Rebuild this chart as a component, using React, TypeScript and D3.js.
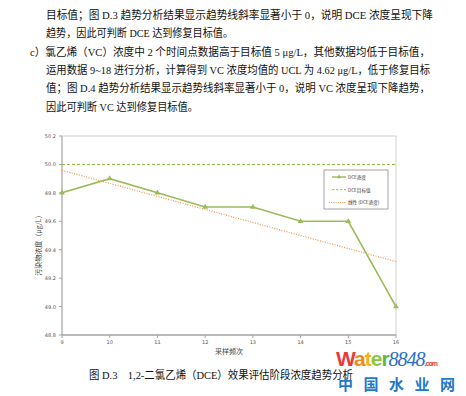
import React from "react";
import * as d3 from "d3";

// sampling rounds and DCE concentration (μg/L)
const rounds = [9, 10, 11, 12, 13, 14, 15, 16];
const dceValues = [49.8, 49.9, 49.8, 49.7, 49.7, 49.6, 49.6, 49.0];
const targetValue = 50.0;
const yTicks = [48.8, 49.0, 49.2, 49.4, 49.6, 49.8, 50.0, 50.2];
const legendLabels = ["DCE浓度", "DCE目标值", "线性 (DCE浓度)"];

const paragraph = [
  { x: 46, text: "目标值；图 D.3 趋势分析结果显示趋势线斜率显著小于 0，说明 DCE 浓度呈现下降", w: 387 },
  { x: 46, text: "趋势，因此可判断 DCE 达到修复目标值。", w: 187 },
  { x: 30, text: "c）氯乙烯（VC）浓度中 2 个时间点数据高于目标值 5 μg/L，其他数据均低于目标值，", w: 400 },
  { x: 46, text: "运用数据 9~18 进行分析，计算得到 VC 浓度均值的 UCL 为 4.62 μg/L，低于修复目标", w: 384 },
  { x: 46, text: "值；图 D.4 趋势分析结果显示趋势线斜率显著小于 0，说明 VC 浓度呈现下降趋势，", w: 384 },
  { x: 46, text: "因此可判断 VC 达到修复目标值。", w: 152 },
];

const W = 466;
const H = 396;
const plot = { left: 62, right: 396, top: 136, bottom: 335 };

const GREEN = "#9bbb59";
const TARGET = "#8cb83c";
const ORANGE = "#f0914a";
const AXIS = "#a6a6a6";
const FONT = "'Liberation Serif', 'Noto Sans CJK SC', serif";

export default function App() {
  const x = d3.scaleLinear().domain([9, 16]).range([plot.left, plot.right]);
  const y = d3.scaleLinear().domain([48.8, 50.2]).range([plot.bottom, plot.top]);

  // linear trend of the DCE series
  const mx = d3.mean(rounds)!;
  const my = d3.mean(dceValues)!;
  const sxy = d3.sum(rounds, (r, i) => (r - mx) * (dceValues[i] - my));
  const sxx = d3.sum(rounds, (r) => (r - mx) ** 2);
  const slope = sxy / sxx;
  const trend = (r: number) => my + slope * (r - mx);

  const line = d3
    .line<number>()
    .x((_, i) => x(rounds[i]))
    .y((d) => y(d));

  const tri = d3.symbol(d3.symbolTriangle, 14);

  const leg = { x: 324, y: 170, w: 64, h: 39 };

  return (
    <svg
      width={W}
      height={H}
      style={{ position: "absolute", left: 0, top: 0, background: "#fff" }}
      fontFamily={FONT}
    >
      <rect width={W} height={H} fill="#fff" />

      {paragraph.map((p, i) => (
        <text
          key={i}
          x={p.x}
          y={19 + i * 18.3}
          fontSize={11}
          fill="#111"
          textLength={p.w}
          lengthAdjust="spacingAndGlyphs"
        >
          {p.text}
        </text>
      ))}

      {/* plot frame */}
      <rect
        x={plot.left}
        y={plot.top}
        width={plot.right - plot.left}
        height={plot.bottom - plot.top}
        fill="none"
        stroke="#d0d0d0"
        strokeWidth={1}
      />
      <line x1={plot.left} x2={plot.left} y1={plot.top} y2={plot.bottom} stroke={AXIS} />
      <line x1={plot.left} x2={plot.right} y1={plot.bottom} y2={plot.bottom} stroke="#8c8c8c" />

      {yTicks.map((t) => (
        <g key={t}>
          <line x1={plot.left - 3} x2={plot.left} y1={y(t)} y2={y(t)} stroke={AXIS} />
          <text x={plot.left - 6} y={y(t) + 2} fontSize={5} textAnchor="end" fill="#555" fontFamily="'DejaVu Sans', sans-serif">
            {t.toFixed(1)}
          </text>
        </g>
      ))}
      {rounds.map((r) => (
        <g key={r}>
          <line x1={x(r)} x2={x(r)} y1={plot.bottom} y2={plot.bottom + 3} stroke={AXIS} />
          <text x={x(r)} y={plot.bottom + 9} fontSize={5} textAnchor="middle" fill="#555" fontFamily="'DejaVu Sans', sans-serif">
            {r}
          </text>
        </g>
      ))}

      <text
        transform={`translate(41,${(plot.top + plot.bottom) / 2 + 8}) rotate(-90)`}
        fontSize={7}
        textAnchor="middle"
        fill="#444"
        fontFamily="'Noto Sans CJK SC', sans-serif"
      >
        污染物浓度（μg/L）
      </text>
      <text x={229} y={354} fontSize={7} textAnchor="middle" fill="#444" fontFamily="'Noto Sans CJK SC', sans-serif">
        采样频次
      </text>

      {/* target line */}
      <line
        x1={plot.left}
        x2={plot.right}
        y1={y(targetValue)}
        y2={y(targetValue)}
        stroke={TARGET}
        strokeWidth={1}
        strokeDasharray="3,2"
      />

      {/* trend line */}
      <line
        x1={x(rounds[0])}
        x2={x(rounds[rounds.length - 1])}
        y1={y(trend(rounds[0]))}
        y2={y(trend(rounds[rounds.length - 1]))}
        stroke={ORANGE}
        strokeWidth={1.2}
        strokeDasharray="1,1.5"
      />

      {/* DCE series */}
      <path d={line(dceValues)!} fill="none" stroke={GREEN} strokeWidth={1.6} />
      {dceValues.map((v, i) => (
        <path key={i} d={tri()!} transform={`translate(${x(rounds[i])},${y(v)})`} fill={GREEN} />
      ))}

      {/* legend */}
      <rect x={leg.x} y={leg.y} width={leg.w} height={leg.h} fill="#fff" stroke="#8c8c8c" strokeWidth={0.8} />
      {legendLabels.map((lbl, i) => {
        const ly = leg.y + 7 + i * 12.7;
        return (
          <g key={lbl}>
            {i === 0 && (
              <>
                <line x1={leg.x + 8} x2={leg.x + 22} y1={ly} y2={ly} stroke={GREEN} strokeWidth={1.4} />
                <path d={d3.symbol(d3.symbolTriangle, 8)()!} transform={`translate(${leg.x + 15},${ly})`} fill={GREEN} />
              </>
            )}
            {i === 1 && (
              <line x1={leg.x + 8} x2={leg.x + 22} y1={ly} y2={ly} stroke={TARGET} strokeWidth={0.9} strokeDasharray="2.5,1.5" />
            )}
            {i === 2 && (
              <line x1={leg.x + 5} x2={leg.x + 22} y1={ly} y2={ly} stroke={ORANGE} strokeWidth={1} strokeDasharray="1,1.2" />
            )}
            <text x={leg.x + 24} y={ly + 1.8} fontSize={4.6} fill="#333" fontFamily="'Noto Sans CJK SC', sans-serif">
              {lbl}
            </text>
          </g>
        );
      })}

      {/* caption */}
      <text x={89} y={379} fontSize={11} fill="#111" textLength={264} lengthAdjust="spacingAndGlyphs">
        图 D.3　1,2-二氯乙烯（DCE）效果评估阶段浓度趋势分析
      </text>

      {/* watermark */}
      <text x={336} y={366} fontSize={21} fontWeight="bold" fontFamily="'Liberation Sans', Arial, sans-serif" letterSpacing={-1}>
        <tspan fill="#e83a3a">W</tspan>
        <tspan fill="#f08a1c">a</tspan>
        <tspan fill="#f2b21c">t</tspan>
        <tspan fill="#8cc63f">e</tspan>
        <tspan fill="#5cb848">r</tspan>
        <tspan fill="#2a6fc9" fontStyle="italic" fontWeight="normal" fontFamily="'Liberation Serif', serif" fontSize={20}>8848</tspan>
        <tspan fill="#e83a3a" fontSize={7} fontWeight="bold">.com</tspan>
      </text>
      <text x={338} y={390} fontSize={15} fill="#1f78c8" fontWeight="bold" fontFamily="'Noto Sans CJK SC', sans-serif" letterSpacing={10.5}>
        中国水业网
      </text>
    </svg>
  );
}
